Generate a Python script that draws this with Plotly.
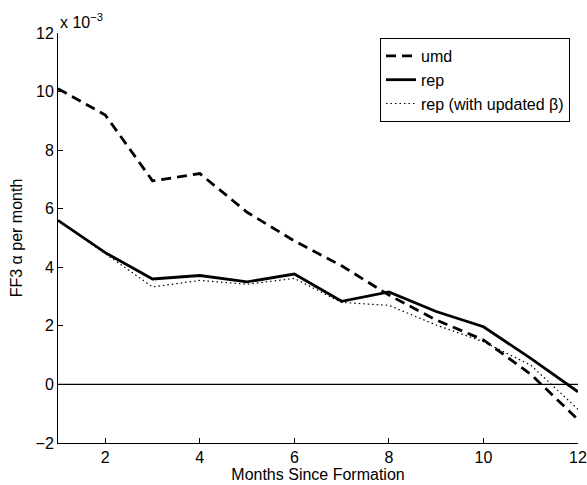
import plotly.graph_objects as go

months = [1, 2, 3, 4, 5, 6, 7, 8, 9, 10, 11, 12]
umd = [10.1, 9.2, 6.95, 7.2, 5.88, 4.9, 4.05, 3.05, 2.2, 1.52, 0.35, -1.2]
rep = [5.6, 4.5, 3.6, 3.72, 3.5, 3.77, 2.84, 3.16, 2.49, 1.97, 0.89, -0.25]
rep_upd = [5.6, 4.45, 3.33, 3.55, 3.42, 3.62, 2.8, 2.7, 2.03, 1.46, 0.66, -0.85]
zero_x = [1, 12]
zero_y = [0, 0]
xticks = [2, 4, 6, 8, 10, 12]
yticks = [-2, 0, 2, 4, 6, 8, 10, 12]

FONT = "Liberation Sans, Arial, Helvetica, sans-serif"
FS = 16

fig = go.Figure()
fig.add_trace(go.Scatter(x=zero_x, y=zero_y, mode="lines",
                         line=dict(color="black", width=1.2),
                         showlegend=False, hoverinfo="skip"))
fig.add_trace(go.Scatter(x=months, y=umd, mode="lines", name="umd",
                         line=dict(color="black", width=2.8, dash="10px,6px")))
fig.add_trace(go.Scatter(x=months, y=rep, mode="lines", name="rep",
                         line=dict(color="black", width=2.8)))
fig.add_trace(go.Scatter(x=months, y=rep_upd, mode="lines",
                         name="rep (with updated β)",
                         line=dict(color="black", width=1.2, dash="1.5px,3px")))

fig.update_layout(
    template="none",
    width=587, height=485,
    margin=dict(l=58, r=9, t=33, b=42, autoexpand=False),
    paper_bgcolor="white", plot_bgcolor="white",
    font=dict(family=FONT, size=FS, color="black"),
    legend=dict(x=(570 - 58) / 520, xanchor="right",
                y=1 - (38 - 33) / 410, yanchor="top",
                bgcolor="white", bordercolor="black", borderwidth=1,
                font=dict(size=FS), tracegroupgap=0),
    xaxis=dict(range=[1, 12], tickvals=xticks, ticks="inside", ticklen=5,
               tickcolor="black", showline=True, linecolor="black",
               linewidth=1, showgrid=False, zeroline=False, automargin=False,
               title=dict(text="Months Since Formation", standoff=2,
                          font=dict(size=FS))),
    yaxis=dict(range=[-2, 12], tickvals=yticks, ticks="inside", ticklen=5,
               tickcolor="black", showline=True, linecolor="black",
               linewidth=1, showgrid=False, zeroline=False, automargin=False,
               title=dict(text="FF3 α per month", standoff=8,
                          font=dict(size=FS))),
    annotations=[dict(text="x 10<sup>−3</sup>", xref="paper", yref="paper",
                      x=0, y=1, xanchor="left", yanchor="bottom",
                      showarrow=False, font=dict(size=FS), yshift=0)],
)

fig.write_html("out.html",
               config={"displayModeBar": False},
               post_script="document.body.style.margin='0';"
                           "document.body.style.padding='0';")
